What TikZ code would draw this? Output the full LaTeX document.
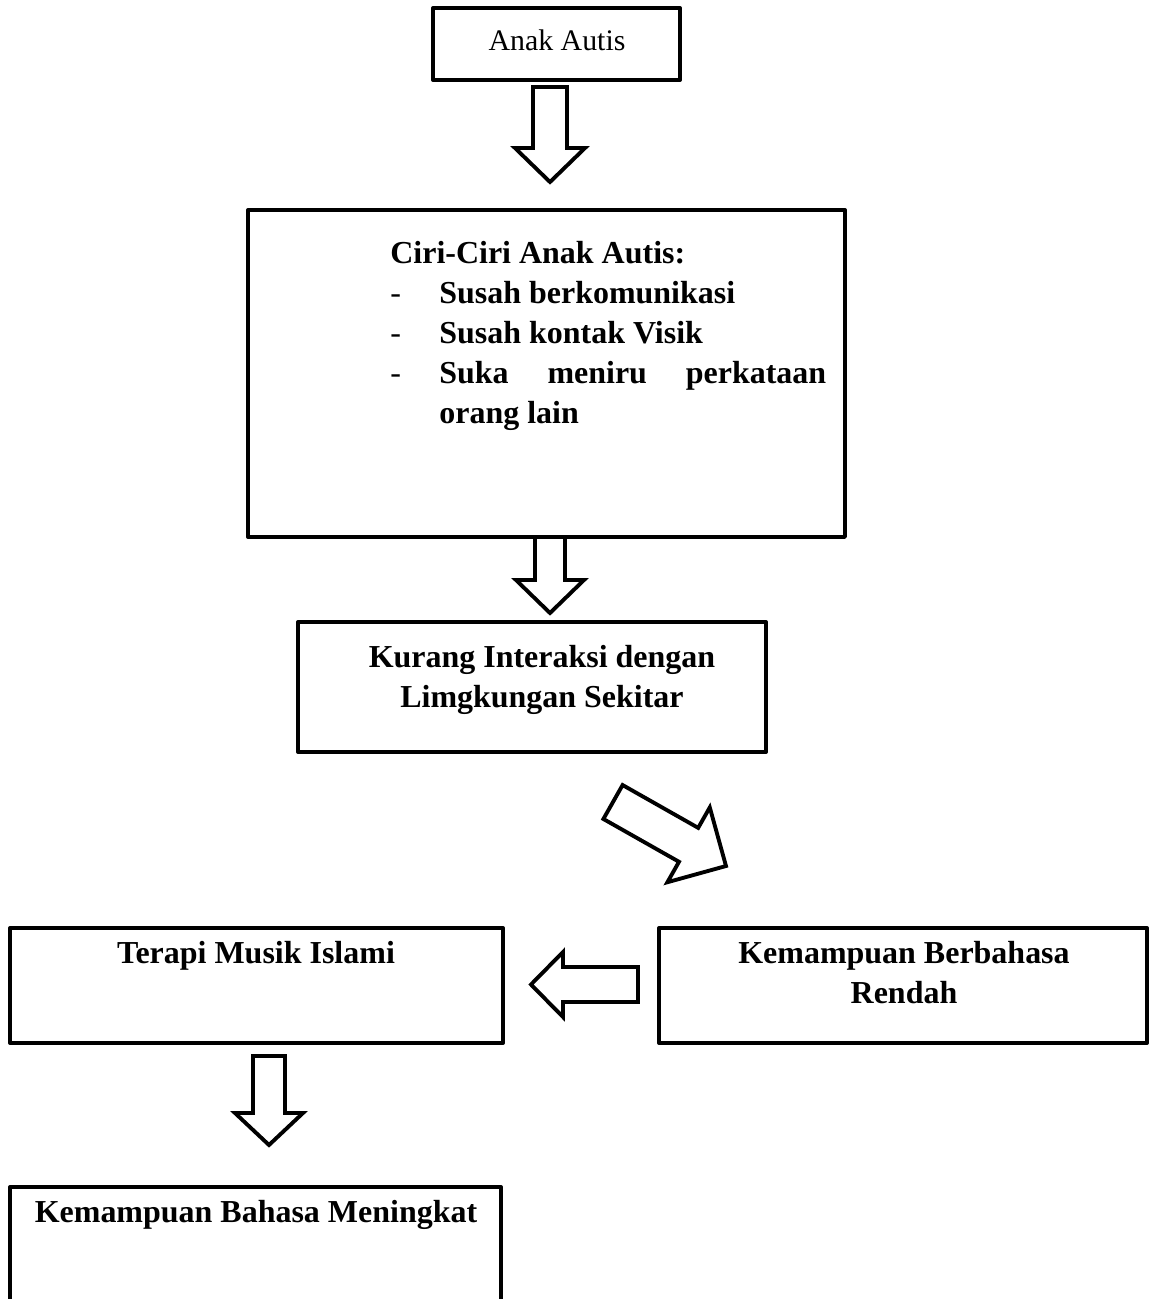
\documentclass[tikz,border=0pt]{standalone}
\usepackage{fontspec}
\setmainfont{Liberation Serif}
\usetikzlibrary{calc}

\tikzset{
  box/.style={draw, line width=2.3pt, outer sep=0pt, inner sep=0pt, anchor=north west, line join=round},
  boldtxt/.style={inner sep=0pt, font=\fontsize{18.2}{22.8}\selectfont\bfseries, align=center},
  plaintxt/.style={inner sep=0pt, font=\fontsize{17}{21}\selectfont},
  hollow/.style={draw, line width=2.2pt, fill=white}
}
\newcommand{\hollowarrow}[5]{%
  \coordinate (hb) at ($(#2)!#5!(#1)$);
  \draw[hollow] ($(#1)!#3!90:(#2)$) -- ($(hb)!#3!90:(#2)$) -- ($(hb)!#4!90:(#2)$) -- (#2)
    -- ($(hb)!#4!-90:(#2)$) -- ($(hb)!#3!-90:(#2)$) -- ($(#1)!#3!-90:(#2)$) -- cycle;
}
\newcommand{\itemdash}{\makebox[0.98cm][l]{\mdseries -}}

\begin{document}
\begin{tikzpicture}[x=0.02cm, y=-0.02cm]
  \clip (0,0) rectangle (1149,1299);
  \fill[white] (0,0) rectangle (1149,1299);

  \node[box, minimum width=4.94cm, minimum height=1.44cm] (anak) at (433,8) {};
  \node[box, minimum width=11.94cm, minimum height=6.54cm] (ciri) at (248,210) {};
  \node[box, minimum width=9.36cm, minimum height=2.6cm] (kurang) at (298,622) {};
  \node[box, minimum width=9.86cm, minimum height=2.3cm] (terapi) at (10,928) {};
  \node[box, minimum width=9.76cm, minimum height=2.3cm] (rendah) at (659,928) {};
  \node[box, minimum width=9.82cm, minimum height=2.66cm] (naik) at (10,1187) {};

  \node[plaintxt, anchor=base] (anaktxt) at (557,50) {Anak Autis};
  \node[boldtxt, anchor=north west, align=left] (ciritxt) at (390,241)
    {Ciri-Ciri Anak Autis:\\
     \itemdash Susah berkomunikasi\\
     \itemdash Susah kontak Visik\\
     \itemdash\makebox[7.74cm][s]{Suka\hfill meniru\hfill perkataan}\\
     \hspace*{0.98cm}orang lain};
  \node[boldtxt, anchor=north] (kurangtxt) at (542,645) {Kurang Interaksi dengan\\Limgkungan Sekitar};
  \node[boldtxt, anchor=base] (terapitxt) at (256,963) {Terapi Musik Islami};
  \node[boldtxt, anchor=north] (rendahtxt) at (904,941) {Kemampuan Berbahasa\\Rendah};
  \node[boldtxt, anchor=base] (naiktxt) at (256,1222) {Kemampuan Bahasa Meningkat};

  \coordinate (p1) at (550,87);
  \coordinate (q1) at (550,182);
  \coordinate (p2) at (q1 |- ciri.south);
  \coordinate (q2) at ($(q1 |- kurang.north)+(0,-9)$);
  \coordinate (p3) at (613,802);
  \coordinate (q3) at (726,866);
  \coordinate (p4) at ($(rendah.west |- 0,984.5)+(-21,0)$);
  \coordinate (q4) at (531,984.5);
  \coordinate (p5) at ($(terapi.south -| 269,0)+(0,13)$);
  \coordinate (q5) at (269,1145);

  \foreach \a/\b/\w/\W/\h in {p1/q1/0.34cm/0.70cm/0.68cm, p2/q2/0.30cm/0.68cm/0.66cm,
      p3/q3/0.39cm/0.86cm/0.86cm, p4/q4/0.35cm/0.65cm/0.64cm, p5/q5/0.32cm/0.68cm/0.64cm}
    \hollowarrow{\a}{\b}{\w}{\W}{\h};
\end{tikzpicture}
\end{document}
